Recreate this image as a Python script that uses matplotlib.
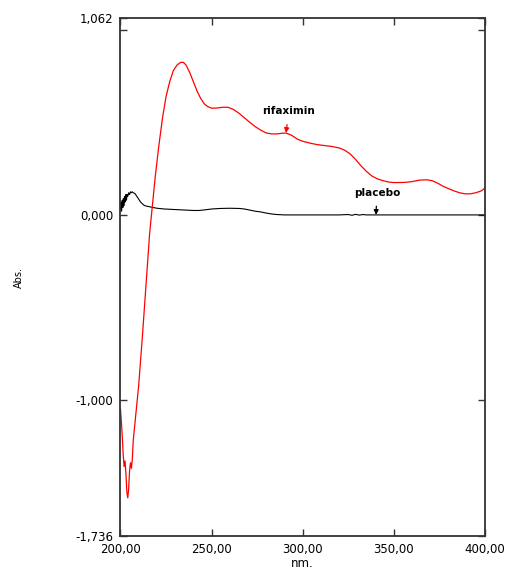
import matplotlib
matplotlib.use("Agg")
import matplotlib.pyplot as plt
import numpy as np

plt.rcParams['font.family'] = ['DejaVu Sans']
plt.rcParams['font.size'] = 8.5

# rifaximin spectrum (nm, Abs)
rifa_nm = [200, 200.5, 201, 201.5, 202, 202.5, 203, 203.5, 204, 204.5, 205, 205.5,
           206, 206.5, 207, 208, 209, 210, 212, 214, 216, 217, 219, 221, 223, 225,
           227, 229, 231, 233, 234.5, 236, 238, 240, 242, 244, 246, 248, 250, 253,
           256, 259, 262, 265, 268, 271, 274, 277, 280, 283, 286, 289, 291, 294,
           297, 300, 304, 308, 312, 316, 320, 323, 326, 329, 332, 335, 338, 341,
           344, 347, 350, 353, 356, 360, 364, 368, 371, 374, 377, 380, 383, 386,
           389, 392, 395, 398, 400]
rifa_abs = [-1.05, -1.12, -1.20, -1.30, -1.36, -1.33, -1.40, -1.50, -1.53, -1.48, -1.38, -1.34,
            -1.37, -1.32, -1.22, -1.12, -1.02, -0.92, -0.66, -0.38, -0.10, 0.0, 0.20, 0.37, 0.52, 0.64,
            0.72, 0.78, 0.81, 0.825, 0.825, 0.81, 0.77, 0.72, 0.67, 0.63, 0.60, 0.585, 0.577, 0.578,
            0.582, 0.582, 0.57, 0.55, 0.525, 0.50, 0.477, 0.458, 0.443, 0.438, 0.438, 0.442, 0.442, 0.43,
            0.41, 0.398, 0.388, 0.38, 0.375, 0.370, 0.362, 0.35, 0.33, 0.30, 0.265, 0.235, 0.21, 0.195,
            0.185, 0.178, 0.175, 0.175, 0.176, 0.18, 0.188, 0.19, 0.185, 0.172, 0.155, 0.142, 0.13, 0.12,
            0.114, 0.114, 0.12, 0.13, 0.145]

# placebo spectrum
plac_nm = [200, 200.3, 200.6, 201, 201.3, 201.6, 202, 202.3, 202.6, 203, 203.3, 203.6, 204,
           204.5, 205, 205.5, 206, 206.5, 207, 208, 209, 210, 211, 212, 213, 214, 216, 218,
           220, 224, 228, 232, 236, 240, 243, 246, 250, 255, 260, 265, 268, 271, 274, 277,
           280, 283, 286, 290, 300, 320, 325, 327, 329, 331, 333, 335, 340, 400]
plac_abs = [0.03, 0.07, 0.02, 0.08, 0.04, 0.09, 0.05, 0.10, 0.07, 0.11, 0.08, 0.11, 0.10,
            0.12, 0.11, 0.125, 0.12, 0.125, 0.12, 0.115, 0.10, 0.085, 0.07, 0.06, 0.052, 0.048, 0.044, 0.04,
            0.036, 0.032, 0.030, 0.028, 0.026, 0.024, 0.024, 0.027, 0.032, 0.035, 0.036, 0.035, 0.032, 0.026,
            0.02, 0.016, 0.01, 0.005, 0.002, 0.0, 0.0, 0.0, 0.002, -0.002, 0.003, -0.001, 0.002, 0.0, 0.0, 0.0]

x_ticks = [200, 250, 300, 350, 400]
x_labels = ['200,00', '250,00', '300,00', '350,00', '400,00']
y_ticks = [-1.736, -1.0, 0.0, 1.0, 1.062]
y_labels = ['-1,736', '-1,000', '0,000', '', '1,062']

fig = plt.figure(figsize=(5.09, 5.69), dpi=100)
ax = fig.add_axes([0.2367, 0.058, 0.7161, 0.9095])

ax.plot(plac_nm, plac_abs, color='black', lw=0.8)
ax.plot(rifa_nm, rifa_abs, color='#ff0000', lw=0.9)

ax.set_xlim(200, 400)
ax.set_ylim(-1.736, 1.062)
ax.set_xticks(x_ticks)
ax.set_xticklabels(x_labels)
ax.set_yticks(y_ticks)
ax.set_yticklabels(y_labels)
ax.tick_params(direction='in', top=True, right=True, length=5, width=1.0, color='#333333', pad=5)
for s in ax.spines.values():
    s.set_linewidth(1.3)
    s.set_color('#333333')

ax.set_ylabel('Abs.', fontsize=7)
ax.yaxis.set_label_coords(-0.265, 0.5)
ax.set_xlabel('nm.', labelpad=1)

# peak labels with arrows
ax.annotate('rifaximin', xy=(290.8, 0.443), xytext=(292.4, 0.56),
            ha='center', va='center', fontsize=7.5, fontweight='bold',
            arrowprops=dict(arrowstyle='-|>', color='#ff0000', lw=0.9,
                            mutation_scale=7, shrinkA=4, shrinkB=0))
ax.annotate('placebo', xy=(340.2, 0.0), xytext=(340.7, 0.119),
            ha='center', va='center', fontsize=7.5, fontweight='bold',
            arrowprops=dict(arrowstyle='-|>', color='black', lw=0.9,
                            mutation_scale=7, shrinkA=4, shrinkB=0))

fig.savefig('out.png', dpi=100)
